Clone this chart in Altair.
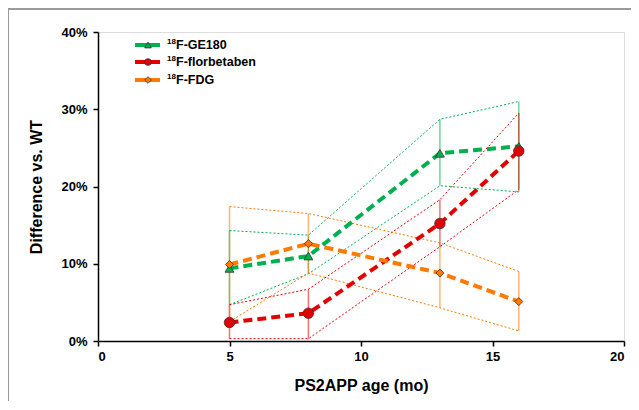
import altair as alt
import pandas as pd

# ---- data ----
ages = [5, 8, 13, 16]
series = ["18F-GE180", "18F-florbetaben", "18F-FDG"]
labels = ["F-GE180", "F-florbetaben", "F-FDG"]

ge180_mean = [0.094, 0.110, 0.243, 0.252]
ge180_lo = [0.047, 0.087, 0.201, 0.193]
ge180_hi = [0.143, 0.137, 0.287, 0.310]

flor_mean = [0.024, 0.036, 0.152, 0.246]
flor_lo = [0.003, 0.003, 0.122, 0.196]
flor_hi = [0.047, 0.067, 0.183, 0.295]

fdg_mean = [0.099, 0.126, 0.088, 0.051]
fdg_lo = [0.025, 0.088, 0.043, 0.013]
fdg_hi = [0.174, 0.165, 0.127, 0.090]

colors = ["#00B04F", "#E30000", "#FF7A00"]
shapes = ["triangle-up", "circle", "diamond"]
sizes = [80, 110, 65]

rows = []
for s, m, lo, hi in zip(series,
                        [ge180_mean, flor_mean, fdg_mean],
                        [ge180_lo, flor_lo, fdg_lo],
                        [ge180_hi, flor_hi, fdg_hi]):
    for a, mv, lv, hv in zip(ages, m, lo, hi):
        rows.append({"series": s, "age": a, "mean": mv, "lo": lv, "hi": hv})
df = pd.DataFrame(rows)

FONT = "Liberation Sans"
xs = alt.Scale(domain=[0, 20], nice=False)
ys = alt.Scale(domain=[0, 0.4], nice=False)
cs = alt.Scale(domain=series, range=colors)

X = alt.X("age:Q", scale=xs,
          axis=alt.Axis(values=[0, 5, 10, 15, 20], title="PS2APP age (mo)", grid=False,
                        labelFont=FONT, labelFontWeight="bold", labelFontSize=13, labelColor="black",
                        titleFont=FONT, titleFontWeight="bold", titleFontSize=16, titleColor="black",
                        titlePadding=14, domainColor="black", domainWidth=1.5, tickColor="black",
                        tickWidth=1.5, tickSize=5, labelPadding=4))
Yaxis = alt.Axis(values=[0, 0.1, 0.2, 0.3, 0.4], format=".0%", title="Difference vs. WT", grid=False,
                 labelFont=FONT, labelFontWeight="bold", labelFontSize=13, labelColor="black",
                 titleFont=FONT, titleFontWeight="bold", titleFontSize=16, titleColor="black",
                 titlePadding=16, domainColor="black", domainWidth=1.5, tickColor="black",
                 tickWidth=1.5, tickSize=5, labelPadding=6)

base = alt.Chart(df)

errbars = base.mark_rule(strokeWidth=1.5, opacity=0.55).encode(
    x=X, y=alt.Y("lo:Q", scale=ys, axis=Yaxis), y2="hi:Q",
    color=alt.Color("series:N", scale=cs, legend=None))

env_lo = base.mark_line(strokeWidth=1, strokeDash=[2, 2]).encode(
    x=alt.X("age:Q", scale=xs), y=alt.Y("lo:Q", scale=ys),
    color=alt.Color("series:N", scale=cs, legend=None), detail="series:N")
env_hi = base.mark_line(strokeWidth=1, strokeDash=[2, 2]).encode(
    x=alt.X("age:Q", scale=xs), y=alt.Y("hi:Q", scale=ys),
    color=alt.Color("series:N", scale=cs, legend=None), detail="series:N")

layers = [errbars, env_lo, env_hi]
for s, c in zip(series, colors):
    layers.append(alt.Chart(df[df.series == s]).mark_line(strokeWidth=4, strokeDash=[9, 5], color=c).encode(
        x=alt.X("age:Q", scale=xs), y=alt.Y("mean:Q", scale=ys)))
for s, c, sh, sz in zip(series, colors, shapes, sizes):
    layers.append(alt.Chart(df[df.series == s]).mark_point(
        filled=True, shape=sh, size=sz, color=c, stroke="#333333", strokeWidth=0.8, opacity=1).encode(
        x=alt.X("age:Q", scale=xs), y=alt.Y("mean:Q", scale=ys)))

# ---- manual legend (pixel positions in the plot area) ----
leg_df = pd.DataFrame({"series": series, "label": labels, "row": [0, 1, 2]})
leg_y = [13, 30, 48]
for i, (s, c, sh, lab) in enumerate(zip(series, colors, shapes, labels)):
    one = alt.Chart(leg_df[leg_df.series == s])
    layers.append(one.mark_rule(strokeWidth=4, color=c).encode(
        x=alt.value(37), x2=alt.value(62), y=alt.value(leg_y[i])))
    layers.append(one.mark_point(filled=True, shape=sh, size=45, color=c, stroke="#333333",
                                 strokeWidth=0.8, opacity=1).encode(
        x=alt.value(50), y=alt.value(leg_y[i])))
    layers.append(one.mark_text(text="18", font=FONT, fontWeight="bold", fontSize=8, align="left",
                                baseline="middle", color="black").encode(
        x=alt.value(69), y=alt.value(leg_y[i] - 3)))
    layers.append(one.mark_text(font=FONT, fontWeight="bold", fontSize=12.5, align="left",
                                baseline="middle", color="black").encode(
        x=alt.value(78), y=alt.value(leg_y[i]), text="label:N"))

# ---- outer frame ----
frame = alt.Chart(pd.DataFrame({"k": [0]}))
layers.append(frame.mark_rule(color="#9a9a9a", strokeWidth=2).encode(
    x=alt.value(-90), x2=alt.value(560), y=alt.value(-23)))
layers.append(frame.mark_rule(color="#9a9a9a", strokeWidth=2).encode(
    x=alt.value(-90), y=alt.value(-23), y2=alt.value(400)))

chart = alt.layer(*layers).properties(
    width=526, height=309,
    autosize=alt.AutoSizeParams(type="none"),
    padding={"left": 90, "top": 24, "right": 7, "bottom": 60},
).configure_view(stroke=None).configure(background="white")

chart.save("out.html", embed_options={"renderer": "svg", "actions": False})
